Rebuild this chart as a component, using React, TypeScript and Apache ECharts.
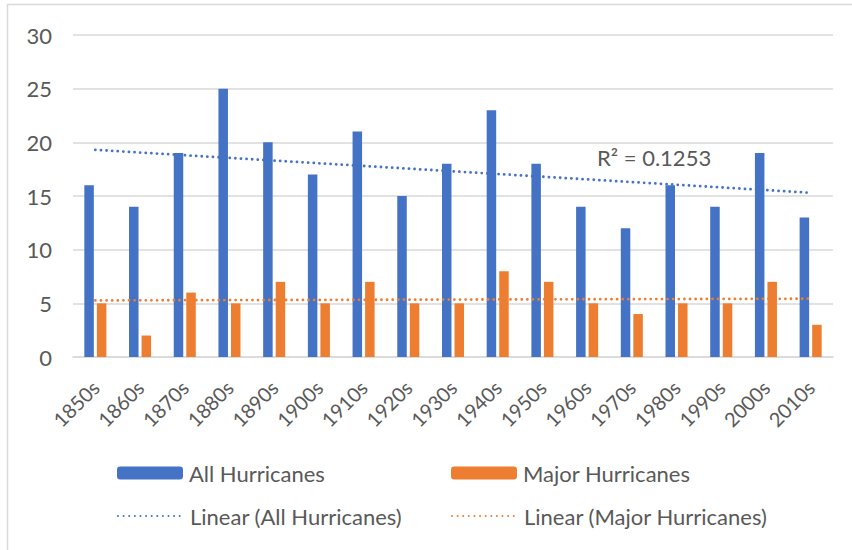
import React, { useEffect, useRef } from "react";
import * as echarts from "echarts";

const decades = ["1850s","1860s","1870s","1880s","1890s","1900s","1910s","1920s","1930s","1940s","1950s","1960s","1970s","1980s","1990s","2000s","2010s"];
const allHurricanes = [16,14,19,25,20,17,21,15,18,23,18,14,12,16,14,19,13];
const majorHurricanes = [5,2,6,5,7,5,7,5,5,8,7,5,4,5,5,7,3];
// linear trendline endpoints (first and last decade), as displayed
const trendAllEnds = [19.3, 15.3];
const trendMajorEnds = [5.27, 5.43];
const rSquaredLabel = "R² = 0.1253";
const yTicks = { min: 0, max: 30, interval: 5 };

const FONT = "Lato, 'Noto Sans', sans-serif";
const TXT = "#595959";
const BLUE = "#4472C4";
const ORANGE = "#ED7D31";

function endsToSeries(ends: number[]) {
  return decades.map((_, i) => (i === 0 ? ends[0] : i === decades.length - 1 ? ends[1] : null));
}

export default function App() {
  const ref = useRef<HTMLDivElement>(null);
  useEffect(() => {
    if (!ref.current) return;
    const chart = echarts.init(ref.current, undefined, { renderer: "svg" });
    const dotted = (c: string) => ({ color: c, width: 2.8, type: [0.01, 5.6] as any, cap: "round" as const });
    const legendBase = {
      itemWidth: 66,
      itemHeight: 13,
      textStyle: { color: TXT, fontSize: 22, fontFamily: FONT, padding: [0, 0, 0, 1] },
      selectedMode: false as const,
      orient: "horizontal" as const,
    };
    const hiddenSymbol = { color: "rgba(0,0,0,0)", borderColor: "rgba(0,0,0,0)", borderWidth: 0, opacity: 0 };
    chart.setOption({
      animation: false,
      backgroundColor: "#ffffff",
      grid: { left: 73, right: 19, top: 35, bottom: 193, containLabel: false },
      xAxis: {
        type: "category",
        data: decades,
        axisLine: { show: true, lineStyle: { color: "#d9d9d9", width: 1.5 } },
        axisTick: { show: false },
        axisLabel: { rotate: 45, color: TXT, fontSize: 20, fontFamily: FONT, margin: 27, interval: 0 },
      },
      yAxis: {
        type: "value",
        min: yTicks.min,
        max: yTicks.max,
        interval: yTicks.interval,
        axisLine: { show: false },
        axisTick: { show: false },
        splitLine: { lineStyle: { color: "#d9d9d9", width: 1.5 } },
        axisLabel: { color: TXT, fontSize: 22, fontFamily: FONT, margin: 21 },
      },
      legend: [
        { ...legendBase, data: ["All Hurricanes"], left: 112, top: 457 },
        { ...legendBase, data: ["Major Hurricanes"], left: 446, top: 457 },
        { ...legendBase, data: ["Linear (All Hurricanes)"], left: 112, top: 500, itemStyle: hiddenSymbol },
        { ...legendBase, data: ["Linear (Major Hurricanes)"], left: 446, top: 500, itemStyle: hiddenSymbol },
      ],
      series: [
        {
          name: "All Hurricanes",
          type: "bar",
          data: allHurricanes,
          barWidth: 9.5,
          barGap: "32%",
          itemStyle: { color: BLUE },
        },
        {
          name: "Major Hurricanes",
          type: "bar",
          data: majorHurricanes,
          barWidth: 9.5,
          barGap: "32%",
          itemStyle: { color: ORANGE },
        },
        {
          name: "Linear (All Hurricanes)",
          type: "line",
          data: endsToSeries(trendAllEnds),
          connectNulls: true,
          symbol: "none",
          color: BLUE,
          lineStyle: dotted(BLUE),
          z: 5,
        },
        {
          name: "Linear (Major Hurricanes)",
          type: "line",
          data: endsToSeries(trendMajorEnds),
          connectNulls: true,
          symbol: "none",
          color: ORANGE,
          lineStyle: dotted(ORANGE),
          z: 5,
        },
      ],
      graphic: [
        {
          type: "rect",
          shape: { x: 7.5, y: 4.5, width: 900, height: 600 },
          style: { fill: "none", stroke: "#d9d9d9", lineWidth: 1.5 },
          silent: true,
        },
        {
          type: "text",
          x: 597,
          y: 146,
          style: { text: rSquaredLabel, fill: TXT, fontSize: 22, fontFamily: FONT },
        },
      ],
    });
    return () => chart.dispose();
  }, []);
  return (
    <div
      ref={ref}
      style={{ position: "absolute", left: 0, top: 0, width: 852, height: 550, background: "#fff" }}
    />
  );
}
